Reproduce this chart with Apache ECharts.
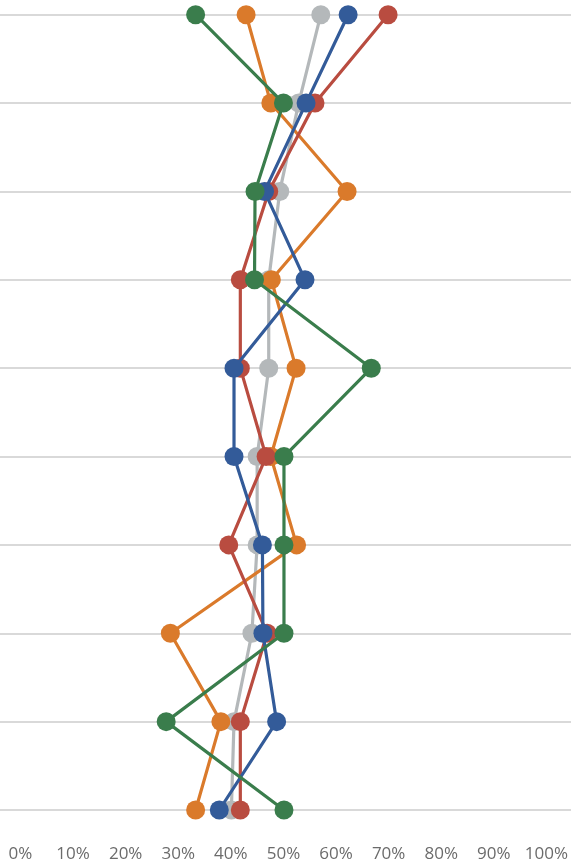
<!DOCTYPE html>
<html>
<head>
<meta charset="utf-8">
<script src="https://cdn.jsdelivr.net/npm/echarts@6/dist/echarts.min.js"></script>
<style>html,body{margin:0;padding:0;background:#fff;}#c{width:571px;height:864px;}</style>
</head>
<body>
<div id="c"></div>
<script>
const categories = ['1','2','3','4','5','6','7','8','9','10'];
const xTicks = [0,10,20,30,40,50,60,70,80,90,100];
const grayVals   = [57.1, 52.9, 49.3, 47.2, 47.2, 45.0, 45.0, 44.0, 40.6, 40.1];
const orangeVals = [42.9, 47.6, 62.1, 47.7, 52.4, 47.6, 52.5, 28.5, 38.1, 33.3];
const redVals    = [69.9, 56.0, 47.2, 41.8, 41.8, 46.7, 39.6, 46.9, 41.8, 41.8];
const blueVals   = [62.3, 54.3, 46.4, 54.1, 40.6, 40.6, 46.0, 46.1, 48.7, 37.8];
const greenVals  = [33.3, 50.0, 44.6, 44.5, 66.7, 50.1, 50.1, 50.1, 27.7, 50.1];

const seriesDefs = [
  {name:'Gray', data: grayVals, color:'#B4B8BA'},
  {name:'Orange', data: orangeVals, color:'#DA7A2B'},
  {name:'Red', data: redVals, color:'#B94C40'},
  {name:'Blue', data: blueVals, color:'#335B99'},
  {name:'Green', data: greenVals, color:'#3A7D4C'}
];

const chart = echarts.init(document.getElementById('c'), null, {renderer:'canvas'});
chart.setOption({
  animation: false,
  backgroundColor: '#ffffff',
  grid: [
    {left: 20.5, right: 17, top: 14.7, bottom: 54, containLabel: false},
    {left: 0, right: 0, top: 14.7, bottom: 54, containLabel: false}
  ],
  xAxis: [
    {
      gridIndex: 0, type: 'value', min: 0, max: 100, interval: 10,
      axisLine: {show: false}, axisTick: {show: false}, splitLine: {show: false},
      axisLabel: {
        formatter: v => v + '%', color: '#6b6b6b', fontSize: 17,
        fontFamily: 'Open Sans', margin: 36
      }
    },
    {gridIndex: 1, type: 'value', min: 0, max: 100, show: false}
  ],
  yAxis: [
    {
      gridIndex: 0, type: 'category', data: categories, inverse: true, boundaryGap: false,
      axisLine: {show: false}, axisTick: {show: false}, axisLabel: {show: false},
      splitLine: {show: false}
    },
    {
      gridIndex: 1, type: 'category', data: categories, inverse: true, boundaryGap: false,
      axisLine: {show: false}, axisTick: {show: false}, axisLabel: {show: false},
      splitLine: {show: true, lineStyle: {color: '#d9d9d9', width: 2}}
    }
  ],
  series: seriesDefs.map((s, i) => ({
    name: s.name, type: 'line', xAxisIndex: 0, yAxisIndex: 0,
    data: s.data, symbol: 'circle', symbolSize: 19, z: 2 + i,
    lineStyle: {color: s.color, width: 3.2},
    itemStyle: {color: s.color},
    emphasis: {disabled: true}
  }))
});
</script>
</body>
</html>
